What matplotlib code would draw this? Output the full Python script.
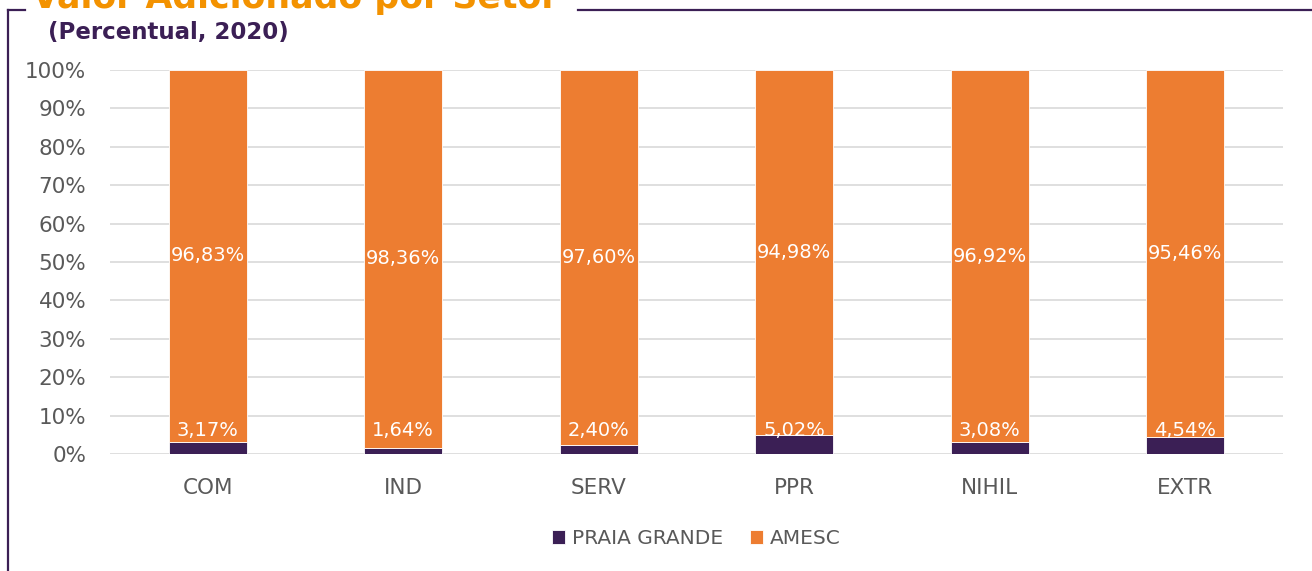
import matplotlib.pyplot as plt
from matplotlib.lines import Line2D
from matplotlib.ticker import FuncFormatter

setores = ["COM", "IND", "SERV", "PPR", "NIHIL", "EXTR"]
praia_grande = [3.17, 1.64, 2.40, 5.02, 3.08, 4.54]
amesc = [96.83, 98.36, 97.60, 94.98, 96.92, 95.46]

ROXO = "#3B1F55"
LARANJA = "#ED7D31"
CINZA = "#595959"

plt.rcParams['font.family'] = ['DejaVu Sans']

fig = plt.figure(figsize=(13.12, 5.71), dpi=100)
ax = fig.add_axes([110 / 1312, 1 - 454 / 571, 1173 / 1312, 384 / 571])

x = range(len(setores))
ax.bar(x, praia_grande, width=0.4, color=ROXO, edgecolor="white", linewidth=0.6,
       label="PRAIA GRANDE", zorder=3)
ax.bar(x, amesc, width=0.4, bottom=praia_grande, color=LARANJA, edgecolor="white",
       linewidth=0.6, label="AMESC", zorder=3)

for i in x:
    ax.text(i, praia_grande[i] + amesc[i] / 2, f"{amesc[i]:.2f}%".replace(".", ","),
            ha="center", va="center", color="white", fontsize=14, zorder=4)
    ax.text(i, 6, f"{praia_grande[i]:.2f}%".replace(".", ","),
            ha="center", va="center", color="white", fontsize=14, zorder=4)

ax.set_xlim(-0.5, len(setores) - 0.5)
ax.set_ylim(0, 100)
ax.set_yticks(range(0, 101, 10))
ax.yaxis.set_major_formatter(FuncFormatter(lambda v, p: f"{v:.0f}%"))
ax.set_xticks(list(x))
ax.set_xticklabels(setores)
ax.tick_params(axis="both", length=0, labelsize=15.5, labelcolor=CINZA)
ax.tick_params(axis="x", pad=17)
ax.tick_params(axis="y", pad=17)
ax.grid(axis="y", color="#D9D9D9", linewidth=1.2, zorder=0)
for s in ax.spines.values():
    s.set_visible(False)

leg = ax.legend(loc="center", bbox_to_anchor=(0.5, -0.22), ncol=2, frameon=False,
                fontsize=14.5, handlelength=0.65, handleheight=0.65, columnspacing=1.3,
                handletextpad=0.35)
for t in leg.get_texts():
    t.set_color(CINZA)

# moldura e titulos
fig.add_artist(Line2D([8 / 1312, 8 / 1312], [0, 1 - 10 / 571], color=ROXO, lw=1.6))
fig.add_artist(Line2D([8 / 1312, 25 / 1312], [1 - 10 / 571, 1 - 10 / 571], color=ROXO, lw=1.6))
fig.add_artist(Line2D([578 / 1312, 1], [1 - 10 / 571, 1 - 10 / 571], color=ROXO, lw=1.6))
fig.text(32 / 1312, 1 - 8 / 571, "Valor Adicionado por Setor", color="#F39200",
         fontsize=25, fontweight="bold", ha="left", va="baseline")
fig.text(48 / 1312, 1 - 32 / 571, "(Percentual, 2020)", color=ROXO,
         fontsize=16.5, fontweight="bold", ha="left", va="center")

fig.savefig("out.png", dpi=100)
